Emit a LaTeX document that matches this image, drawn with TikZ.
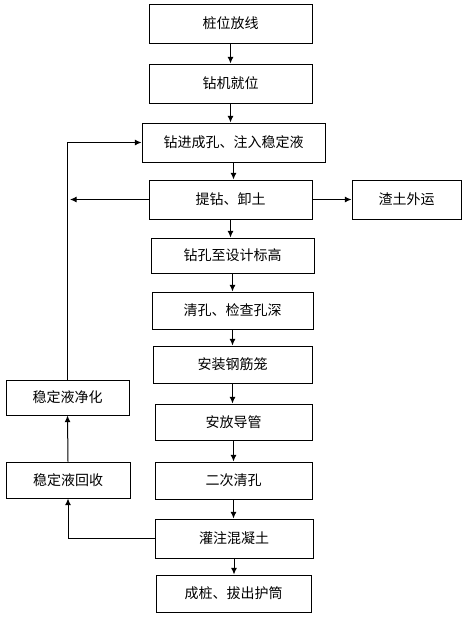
\documentclass[tikz,border=0pt]{standalone}
\usepackage{fontspec}
\newfontfamily\cjk{Noto Sans CJK SC}
\usetikzlibrary{arrows.meta}
\begin{document}
\begin{tikzpicture}[x=0.75pt,y=-0.75pt,
  box/.style 2 args={draw, line width=0.75pt, rectangle, inner sep=0pt,
    minimum width=#1*0.75pt, minimum height=#2*0.75pt,
    font=\cjk\fontsize{10.5pt}{12pt}\selectfont},
  arr/.style={line width=0.75pt, -{Latex[length=5pt,width=4.5pt]}}]
\useasboundingbox (0,0) rectangle (470,621);
\node[box={163}{39}] (b1) at (230.5,23.5) {桩位放线};
\node[box={163}{39}] (b2) at (230.5,83.5) {钻机就位};
\node[box={183}{39}] (b3) at (233.5,142.5) {钻进成孔、注入稳定液};
\node[box={163}{39}] (b4) at (230.5,199.5) {提钻、卸土};
\node[box={109}{39}] (bw) at (406.5,199.5) {渣土外运};
\node[box={163}{35}] (b5) at (232.5,255.5) {钻孔至设计标高};
\node[box={161}{37}] (b6) at (232.5,310.5) {清孔、检查孔深};
\node[box={159}{37}] (b7) at (232.5,364.5) {安装钢筋笼};
\node[box={157}{36}] (b8) at (233.5,422) {安放导管};
\node[box={157}{37}] (b9) at (233.5,480.5) {二次清孔};
\node[box={158}{39}] (b10) at (234,538.5) {灌注混凝土};
\node[box={155}{37}] (b11) at (233.5,593.5) {成桩、拔出护筒};
\node[box={123}{35}] (bj) at (67.5,397.5) {稳定液净化};
\node[box={124}{36}] (bh) at (68,480) {稳定液回收};
\coordinate (lt) at (70,199.5);
\foreach \a/\b in {b1/b2,b2/b3,b3/b4,b4/b5,b5/b6,b6/b7,b7/b8,b8/b9,b9/b10,b10/b11}
  \draw[arr] (\a.south) -- (\a.south |- \b.north);
\draw[arr] (b4.east) -- (bw.west);
\draw[arr] (b4.west) -- (lt);
\draw[arr] (bj.north) |- (b3.west);
\draw[arr] (b10.west) -| (bh.south);
\draw[arr] (bh.north) -- (bj.south);
\end{tikzpicture}
\end{document}
